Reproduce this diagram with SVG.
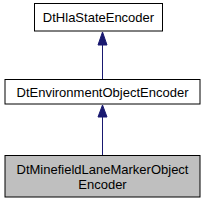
<svg xmlns="http://www.w3.org/2000/svg" width="205" height="203" viewBox="0 0 205 203">
<defs>
<style>
.box{fill:#ffffff;stroke:#000000;stroke-width:1}
.cur{fill:#bfbfbf;stroke:#000000;stroke-width:1}
text{font-family:"Liberation Sans",Arial,sans-serif;font-size:13px;text-anchor:middle;fill:#000000}
.edge{stroke:#191970;stroke-width:1;fill:none}
.head{fill:#191970;stroke:#191970;stroke-width:1}
</style>
</defs>
<rect width="205" height="203" fill="#ffffff"/>
<g id="edges">
<path class="edge" d="M102.5,45 V79"/>
<polygon class="head" points="102.5,32 98,45 107,45"/>
<path class="edge" d="M102.5,117 V155"/>
<polygon class="head" points="102.5,105 98,117 107,117"/>
</g>
<g id="node_DtHlaStateEncoder">
<rect class="box" x="34.5" y="3.5" width="128" height="27.5"/>
<text x="98.5" y="22">DtHlaStateEncoder</text>
</g>
<g id="node_DtEnvironmentObjectEncoder">
<rect class="box" x="5" y="79.5" width="195" height="24.5"/>
<text x="102.5" y="96.5">DtEnvironmentObjectEncoder</text>
</g>
<g id="node_DtMinefieldLaneMarkerObjectEncoder">
<rect class="cur" x="5" y="155.5" width="195" height="41.5"/>
<text x="102.5" y="173.5">DtMinefieldLaneMarkerObject</text>
<text x="102.5" y="188.5">Encoder</text>
</g>
</svg>
